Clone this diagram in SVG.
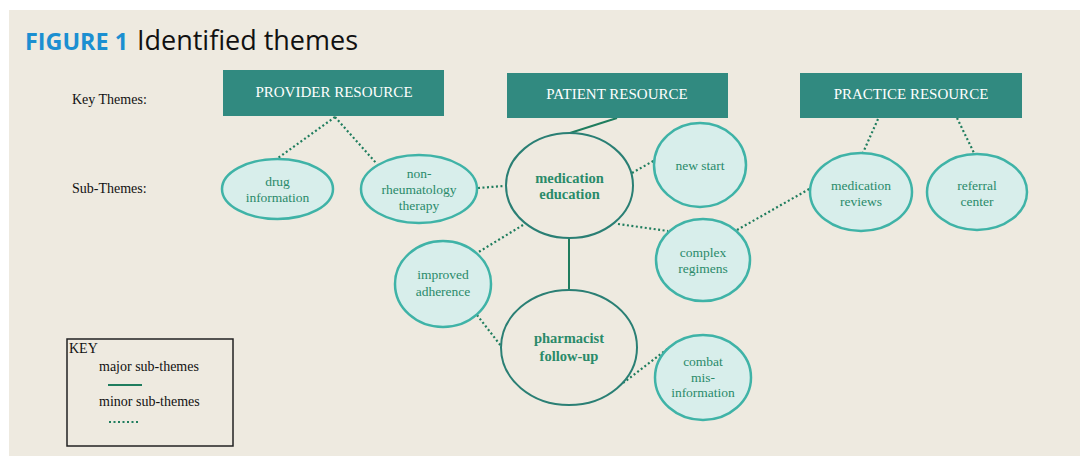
<svg xmlns="http://www.w3.org/2000/svg" width="1080" height="456" viewBox="0 0 1080 456">
<style>
.lbl{font-family:"Liberation Serif","Times New Roman",serif;font-size:14px;fill:#111}
.box{fill:#318a80}
.boxt{font-family:"Liberation Serif","Times New Roman",serif;font-size:15px;fill:#fff;text-anchor:middle}
.minor{fill:#d8eeeb;stroke:#3fb3a7;stroke-width:2.5}
.major{fill:none;stroke:#2a7f74;stroke-width:2}
.mt{font-family:"Liberation Serif","Times New Roman",serif;font-size:13.5px;fill:#2a8a6a;text-anchor:middle}
.Mt{font-family:"Liberation Serif","Times New Roman",serif;font-size:14.5px;font-weight:bold;fill:#2a8a6a;text-anchor:middle}
.solid{stroke:#1f7d5e;stroke-width:2;fill:none}
.dot{stroke:#1f7d5e;stroke-width:2.2;stroke-dasharray:2 2.5;fill:none}
</style>
<rect x="0" y="0" width="1080" height="456" fill="#ffffff"/>
<rect x="9" y="10" width="1071" height="446" fill="#eeeae0"/>
<text x="25" y="50" font-family="'Open Sans','Noto Sans',sans-serif" font-weight="bold" font-size="23" fill="#1b8fd1" textLength="103" lengthAdjust="spacingAndGlyphs">FIGURE 1</text>
<text x="137" y="50" font-family="'Open Sans','Noto Sans',sans-serif" font-size="28" fill="#111" textLength="221" lengthAdjust="spacingAndGlyphs">Identified themes</text>
<text class="lbl" x="72" y="104">Key Themes:</text>
<text class="lbl" x="72" y="193">Sub-Themes:</text>

<g id="connectors">
<line class="solid" x1="570" y1="133" x2="617" y2="118"/>
<line class="solid" x1="569" y1="238" x2="569" y2="290"/>
<line class="dot" x1="335" y1="117" x2="278" y2="158"/>
<line class="dot" x1="335" y1="117" x2="377" y2="164"/>
<line class="dot" x1="478" y1="188" x2="504" y2="186"/>
<line class="dot" x1="632" y1="173" x2="655" y2="160"/>
<line class="dot" x1="618" y1="224" x2="668" y2="231"/>
<line class="dot" x1="737" y1="230" x2="811" y2="188"/>
<line class="dot" x1="523" y1="225" x2="477" y2="253"/>
<line class="dot" x1="477" y1="315" x2="501" y2="346"/>
<line class="dot" x1="623" y1="383" x2="670" y2="347"/>
<line class="dot" x1="878" y1="119" x2="862" y2="155"/>
<line class="dot" x1="957" y1="118" x2="975" y2="155"/>
</g>

<g id="provider"><rect class="box" x="223" y="70" width="221" height="46"/><text class="boxt" x="334" y="97">PROVIDER RESOURCE</text></g>
<g id="patient"><rect class="box" x="507" y="73" width="221" height="45"/><text class="boxt" x="617" y="99">PATIENT RESOURCE</text></g>
<g id="practice"><rect class="box" x="800" y="73" width="222" height="45"/><text class="boxt" x="911" y="99">PRACTICE RESOURCE</text></g>

<g id="drug-information"><ellipse class="minor" cx="277.5" cy="189" rx="55.5" ry="30"/><text class="mt" x="277.5" y="186">drug</text><text class="mt" x="277.5" y="202">information</text></g>
<g id="non-rheumatology"><ellipse class="minor" cx="419" cy="189" rx="58" ry="34"/><text class="mt" x="419" y="178">non-</text><text class="mt" x="419" y="194">rheumatology</text><text class="mt" x="419" y="210">therapy</text></g>
<g id="medication-education"><ellipse class="major" cx="569.5" cy="185.5" rx="63.5" ry="52.5"/><text class="Mt" x="569.5" y="183">medication</text><text class="Mt" x="569.5" y="199">education</text></g>
<g id="new-start"><ellipse class="minor" cx="700" cy="165" rx="46" ry="42"/><text class="mt" x="700" y="170">new start</text></g>
<g id="medication-reviews"><ellipse class="minor" cx="861" cy="192" rx="51" ry="39"/><text class="mt" x="861" y="190">medication</text><text class="mt" x="861" y="206">reviews</text></g>
<g id="referral-center"><ellipse class="minor" cx="977" cy="192" rx="50" ry="38"/><text class="mt" x="977" y="190">referral</text><text class="mt" x="977" y="206">center</text></g>
<g id="complex-regimens"><ellipse class="minor" cx="703" cy="260" rx="47" ry="41"/><text class="mt" x="703" y="257">complex</text><text class="mt" x="703" y="273">regimens</text></g>
<g id="improved-adherence"><ellipse class="minor" cx="443" cy="284" rx="48" ry="43"/><text class="mt" x="443" y="279">improved</text><text class="mt" x="443" y="296">adherence</text></g>
<g id="pharmacist-follow-up"><ellipse class="major" cx="569" cy="347.5" rx="68" ry="57.5"/><text class="Mt" x="569" y="343">pharmacist</text><text class="Mt" x="569" y="361">follow-up</text></g>
<g id="combat-misinformation"><ellipse class="minor" cx="703" cy="377.5" rx="48" ry="42.5"/><text class="mt" x="703" y="366">combat</text><text class="mt" x="703" y="382">mis-</text><text class="mt" x="703" y="397">information</text></g>

<g id="key">
<rect x="67" y="339" width="166" height="107" fill="none" stroke="#222" stroke-width="1.5"/>
<text class="lbl" x="69" y="353">KEY</text>
<text class="lbl" x="99" y="371">major sub-themes</text>
<line class="solid" x1="108" y1="385" x2="142" y2="385"/>
<text class="lbl" x="99" y="406">minor sub-themes</text>
<line class="dot" x1="109" y1="422" x2="140" y2="422" stroke-width="2"/>
</g>
</svg>
